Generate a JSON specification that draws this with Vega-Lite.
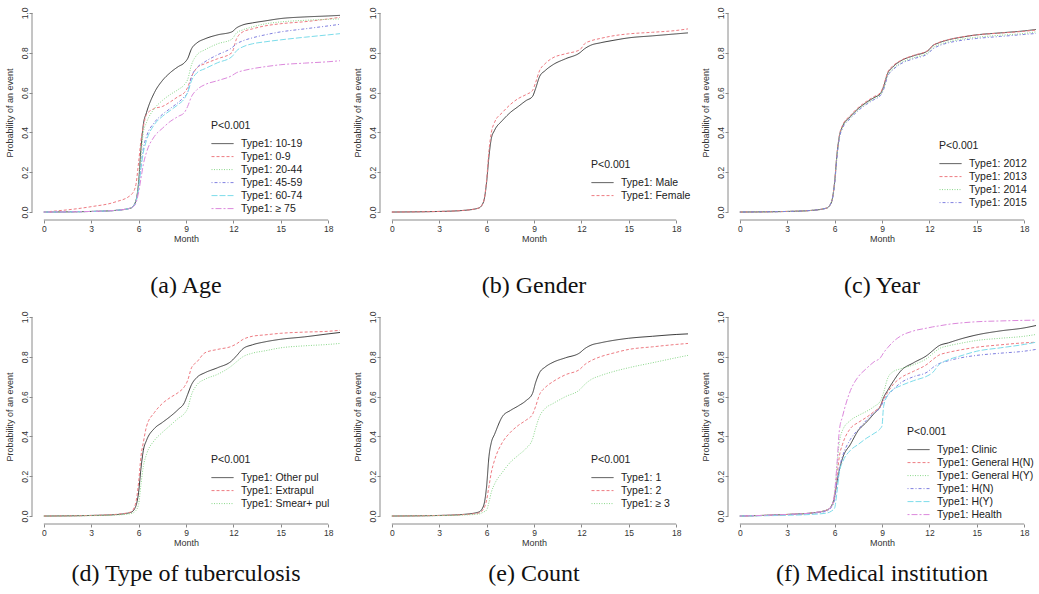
{
"$schema": "https://vega.github.io/schema/vega-lite/v6.json",
"padding": {"left": 4, "top": 5, "right": 0, "bottom": 0},
"background": "white",
"datasets": {
"age": [
{"group":"Type1: 10-19","month":0,"prob":0},{"group":"Type1: 10-19","month":3,"prob":0.003},{"group":"Type1: 10-19","month":4.5,"prob":0.008},{"group":"Type1: 10-19","month":5.5,"prob":0.02},{"group":"Type1: 10-19","month":5.8,"prob":0.05},{"group":"Type1: 10-19","month":6,"prob":0.15},{"group":"Type1: 10-19","month":6.15,"prob":0.32},{"group":"Type1: 10-19","month":6.3,"prob":0.44},{"group":"Type1: 10-19","month":6.5,"prob":0.5},{"group":"Type1: 10-19","month":7,"prob":0.6},{"group":"Type1: 10-19","month":7.5,"prob":0.66},{"group":"Type1: 10-19","month":8,"prob":0.7},{"group":"Type1: 10-19","month":8.5,"prob":0.73},{"group":"Type1: 10-19","month":8.9,"prob":0.75},{"group":"Type1: 10-19","month":9.1,"prob":0.77},{"group":"Type1: 10-19","month":9.35,"prob":0.82},{"group":"Type1: 10-19","month":9.7,"prob":0.85},{"group":"Type1: 10-19","month":10.2,"prob":0.87},{"group":"Type1: 10-19","month":11,"prob":0.89},{"group":"Type1: 10-19","month":11.9,"prob":0.905},{"group":"Type1: 10-19","month":12.2,"prob":0.925},{"group":"Type1: 10-19","month":12.6,"prob":0.94},{"group":"Type1: 10-19","month":13.2,"prob":0.95},{"group":"Type1: 10-19","month":14,"prob":0.96},{"group":"Type1: 10-19","month":15,"prob":0.972},{"group":"Type1: 10-19","month":16.5,"prob":0.98},{"group":"Type1: 10-19","month":18,"prob":0.985},{"group":"Type1: 10-19","month":18.75,"prob":0.988},
{"group":"Type1: 0-9","month":0,"prob":0},{"group":"Type1: 0-9","month":3,"prob":0.027},{"group":"Type1: 0-9","month":4.5,"prob":0.05},{"group":"Type1: 0-9","month":5.5,"prob":0.085},{"group":"Type1: 0-9","month":5.8,"prob":0.127},{"group":"Type1: 0-9","month":6,"prob":0.25},{"group":"Type1: 0-9","month":6.15,"prob":0.36},{"group":"Type1: 0-9","month":6.3,"prob":0.43},{"group":"Type1: 0-9","month":6.5,"prob":0.49},{"group":"Type1: 0-9","month":7,"prob":0.52},{"group":"Type1: 0-9","month":7.5,"prob":0.53},{"group":"Type1: 0-9","month":8,"prob":0.553},{"group":"Type1: 0-9","month":8.5,"prob":0.58},{"group":"Type1: 0-9","month":8.9,"prob":0.6},{"group":"Type1: 0-9","month":9.1,"prob":0.625},{"group":"Type1: 0-9","month":9.35,"prob":0.68},{"group":"Type1: 0-9","month":9.7,"prob":0.725},{"group":"Type1: 0-9","month":10.2,"prob":0.745},{"group":"Type1: 0-9","month":11,"prob":0.77},{"group":"Type1: 0-9","month":11.9,"prob":0.8},{"group":"Type1: 0-9","month":12.2,"prob":0.87},{"group":"Type1: 0-9","month":12.6,"prob":0.905},{"group":"Type1: 0-9","month":13.2,"prob":0.92},{"group":"Type1: 0-9","month":14,"prob":0.935},{"group":"Type1: 0-9","month":15,"prob":0.946},{"group":"Type1: 0-9","month":16.5,"prob":0.956},{"group":"Type1: 0-9","month":18,"prob":0.97},{"group":"Type1: 0-9","month":18.75,"prob":0.978},
{"group":"Type1: 20-44","month":0,"prob":0},{"group":"Type1: 20-44","month":3,"prob":0.003},{"group":"Type1: 20-44","month":4.5,"prob":0.008},{"group":"Type1: 20-44","month":5.5,"prob":0.02},{"group":"Type1: 20-44","month":5.8,"prob":0.05},{"group":"Type1: 20-44","month":6,"prob":0.14},{"group":"Type1: 20-44","month":6.15,"prob":0.28},{"group":"Type1: 20-44","month":6.3,"prob":0.4},{"group":"Type1: 20-44","month":6.5,"prob":0.45},{"group":"Type1: 20-44","month":7,"prob":0.52},{"group":"Type1: 20-44","month":7.5,"prob":0.56},{"group":"Type1: 20-44","month":8,"prob":0.59},{"group":"Type1: 20-44","month":8.5,"prob":0.615},{"group":"Type1: 20-44","month":8.9,"prob":0.64},{"group":"Type1: 20-44","month":9.1,"prob":0.665},{"group":"Type1: 20-44","month":9.35,"prob":0.74},{"group":"Type1: 20-44","month":9.7,"prob":0.79},{"group":"Type1: 20-44","month":10.2,"prob":0.815},{"group":"Type1: 20-44","month":11,"prob":0.845},{"group":"Type1: 20-44","month":11.9,"prob":0.868},{"group":"Type1: 20-44","month":12.2,"prob":0.9},{"group":"Type1: 20-44","month":12.6,"prob":0.915},{"group":"Type1: 20-44","month":13.2,"prob":0.93},{"group":"Type1: 20-44","month":14,"prob":0.945},{"group":"Type1: 20-44","month":15,"prob":0.955},{"group":"Type1: 20-44","month":16.5,"prob":0.963},{"group":"Type1: 20-44","month":18,"prob":0.968},{"group":"Type1: 20-44","month":18.75,"prob":0.97},
{"group":"Type1: 45-59","month":0,"prob":0},{"group":"Type1: 45-59","month":3,"prob":0.003},{"group":"Type1: 45-59","month":4.5,"prob":0.008},{"group":"Type1: 45-59","month":5.5,"prob":0.02},{"group":"Type1: 45-59","month":5.8,"prob":0.045},{"group":"Type1: 45-59","month":6,"prob":0.12},{"group":"Type1: 45-59","month":6.15,"prob":0.23},{"group":"Type1: 45-59","month":6.3,"prob":0.32},{"group":"Type1: 45-59","month":6.5,"prob":0.38},{"group":"Type1: 45-59","month":7,"prob":0.45},{"group":"Type1: 45-59","month":7.5,"prob":0.49},{"group":"Type1: 45-59","month":8,"prob":0.52},{"group":"Type1: 45-59","month":8.5,"prob":0.55},{"group":"Type1: 45-59","month":8.9,"prob":0.58},{"group":"Type1: 45-59","month":9.1,"prob":0.6},{"group":"Type1: 45-59","month":9.35,"prob":0.68},{"group":"Type1: 45-59","month":9.7,"prob":0.725},{"group":"Type1: 45-59","month":10.2,"prob":0.755},{"group":"Type1: 45-59","month":11,"prob":0.79},{"group":"Type1: 45-59","month":11.9,"prob":0.825},{"group":"Type1: 45-59","month":12.2,"prob":0.845},{"group":"Type1: 45-59","month":12.6,"prob":0.86},{"group":"Type1: 45-59","month":13.2,"prob":0.875},{"group":"Type1: 45-59","month":14,"prob":0.89},{"group":"Type1: 45-59","month":15,"prob":0.905},{"group":"Type1: 45-59","month":16.5,"prob":0.92},{"group":"Type1: 45-59","month":18,"prob":0.935},{"group":"Type1: 45-59","month":18.75,"prob":0.943},
{"group":"Type1: 60-74","month":0,"prob":0},{"group":"Type1: 60-74","month":3,"prob":0.003},{"group":"Type1: 60-74","month":4.5,"prob":0.008},{"group":"Type1: 60-74","month":5.5,"prob":0.02},{"group":"Type1: 60-74","month":5.8,"prob":0.045},{"group":"Type1: 60-74","month":6,"prob":0.12},{"group":"Type1: 60-74","month":6.15,"prob":0.22},{"group":"Type1: 60-74","month":6.3,"prob":0.3},{"group":"Type1: 60-74","month":6.5,"prob":0.36},{"group":"Type1: 60-74","month":7,"prob":0.44},{"group":"Type1: 60-74","month":7.5,"prob":0.48},{"group":"Type1: 60-74","month":8,"prob":0.51},{"group":"Type1: 60-74","month":8.5,"prob":0.54},{"group":"Type1: 60-74","month":8.9,"prob":0.57},{"group":"Type1: 60-74","month":9.1,"prob":0.6},{"group":"Type1: 60-74","month":9.35,"prob":0.66},{"group":"Type1: 60-74","month":9.7,"prob":0.7},{"group":"Type1: 60-74","month":10.2,"prob":0.72},{"group":"Type1: 60-74","month":11,"prob":0.75},{"group":"Type1: 60-74","month":11.9,"prob":0.78},{"group":"Type1: 60-74","month":12.2,"prob":0.81},{"group":"Type1: 60-74","month":12.6,"prob":0.83},{"group":"Type1: 60-74","month":13.2,"prob":0.845},{"group":"Type1: 60-74","month":14,"prob":0.855},{"group":"Type1: 60-74","month":15,"prob":0.865},{"group":"Type1: 60-74","month":16.5,"prob":0.878},{"group":"Type1: 60-74","month":18,"prob":0.89},{"group":"Type1: 60-74","month":18.75,"prob":0.896},
{"group":"Type1: ≥ 75","month":0,"prob":0},{"group":"Type1: ≥ 75","month":3,"prob":0.003},{"group":"Type1: ≥ 75","month":4.5,"prob":0.008},{"group":"Type1: ≥ 75","month":5.5,"prob":0.02},{"group":"Type1: ≥ 75","month":5.8,"prob":0.04},{"group":"Type1: ≥ 75","month":6,"prob":0.1},{"group":"Type1: ≥ 75","month":6.15,"prob":0.17},{"group":"Type1: ≥ 75","month":6.3,"prob":0.24},{"group":"Type1: ≥ 75","month":6.5,"prob":0.3},{"group":"Type1: ≥ 75","month":7,"prob":0.38},{"group":"Type1: ≥ 75","month":7.5,"prob":0.42},{"group":"Type1: ≥ 75","month":8,"prob":0.455},{"group":"Type1: ≥ 75","month":8.5,"prob":0.48},{"group":"Type1: ≥ 75","month":8.9,"prob":0.5},{"group":"Type1: ≥ 75","month":9.1,"prob":0.53},{"group":"Type1: ≥ 75","month":9.35,"prob":0.58},{"group":"Type1: ≥ 75","month":9.7,"prob":0.615},{"group":"Type1: ≥ 75","month":10.2,"prob":0.64},{"group":"Type1: ≥ 75","month":11,"prob":0.66},{"group":"Type1: ≥ 75","month":11.9,"prob":0.685},{"group":"Type1: ≥ 75","month":12.2,"prob":0.7},{"group":"Type1: ≥ 75","month":12.6,"prob":0.71},{"group":"Type1: ≥ 75","month":13.2,"prob":0.72},{"group":"Type1: ≥ 75","month":14,"prob":0.73},{"group":"Type1: ≥ 75","month":15,"prob":0.74},{"group":"Type1: ≥ 75","month":16.5,"prob":0.748},{"group":"Type1: ≥ 75","month":18,"prob":0.755},{"group":"Type1: ≥ 75","month":18.75,"prob":0.76}
],
"gender": [
{"group":"Type1: Male","month":0,"prob":0},{"group":"Type1: Male","month":3,"prob":0.003},{"group":"Type1: Male","month":4.5,"prob":0.008},{"group":"Type1: Male","month":5.5,"prob":0.02},{"group":"Type1: Male","month":5.8,"prob":0.05},{"group":"Type1: Male","month":6,"prob":0.15},{"group":"Type1: Male","month":6.15,"prob":0.28},{"group":"Type1: Male","month":6.3,"prob":0.37},{"group":"Type1: Male","month":6.5,"prob":0.41},{"group":"Type1: Male","month":7,"prob":0.46},{"group":"Type1: Male","month":7.5,"prob":0.5},{"group":"Type1: Male","month":8,"prob":0.53},{"group":"Type1: Male","month":8.5,"prob":0.56},{"group":"Type1: Male","month":8.9,"prob":0.58},{"group":"Type1: Male","month":9.1,"prob":0.62},{"group":"Type1: Male","month":9.35,"prob":0.68},{"group":"Type1: Male","month":9.7,"prob":0.71},{"group":"Type1: Male","month":10.2,"prob":0.74},{"group":"Type1: Male","month":11,"prob":0.77},{"group":"Type1: Male","month":11.9,"prob":0.8},{"group":"Type1: Male","month":12.2,"prob":0.82},{"group":"Type1: Male","month":12.6,"prob":0.838},{"group":"Type1: Male","month":13.2,"prob":0.85},{"group":"Type1: Male","month":14,"prob":0.862},{"group":"Type1: Male","month":15,"prob":0.875},{"group":"Type1: Male","month":16.5,"prob":0.885},{"group":"Type1: Male","month":18,"prob":0.895},{"group":"Type1: Male","month":18.75,"prob":0.9},
{"group":"Type1: Female","month":0,"prob":0},{"group":"Type1: Female","month":3,"prob":0.003},{"group":"Type1: Female","month":4.5,"prob":0.008},{"group":"Type1: Female","month":5.5,"prob":0.02},{"group":"Type1: Female","month":5.8,"prob":0.05},{"group":"Type1: Female","month":6,"prob":0.16},{"group":"Type1: Female","month":6.15,"prob":0.31},{"group":"Type1: Female","month":6.3,"prob":0.4},{"group":"Type1: Female","month":6.5,"prob":0.45},{"group":"Type1: Female","month":7,"prob":0.5},{"group":"Type1: Female","month":7.5,"prob":0.54},{"group":"Type1: Female","month":8,"prob":0.57},{"group":"Type1: Female","month":8.5,"prob":0.59},{"group":"Type1: Female","month":8.9,"prob":0.61},{"group":"Type1: Female","month":9.1,"prob":0.65},{"group":"Type1: Female","month":9.35,"prob":0.71},{"group":"Type1: Female","month":9.7,"prob":0.745},{"group":"Type1: Female","month":10.2,"prob":0.775},{"group":"Type1: Female","month":11,"prob":0.795},{"group":"Type1: Female","month":11.9,"prob":0.815},{"group":"Type1: Female","month":12.2,"prob":0.845},{"group":"Type1: Female","month":12.6,"prob":0.86},{"group":"Type1: Female","month":13.2,"prob":0.872},{"group":"Type1: Female","month":14,"prob":0.885},{"group":"Type1: Female","month":15,"prob":0.895},{"group":"Type1: Female","month":16.5,"prob":0.903},{"group":"Type1: Female","month":18,"prob":0.912},{"group":"Type1: Female","month":18.75,"prob":0.92}
],
"year": [
{"group":"Type1: 2012","month":0,"prob":0},{"group":"Type1: 2012","month":3,"prob":0.003},{"group":"Type1: 2012","month":4.5,"prob":0.008},{"group":"Type1: 2012","month":5.5,"prob":0.02},{"group":"Type1: 2012","month":5.8,"prob":0.05},{"group":"Type1: 2012","month":6,"prob":0.15},{"group":"Type1: 2012","month":6.15,"prob":0.29},{"group":"Type1: 2012","month":6.3,"prob":0.38},{"group":"Type1: 2012","month":6.5,"prob":0.43},{"group":"Type1: 2012","month":7,"prob":0.48},{"group":"Type1: 2012","month":7.5,"prob":0.52},{"group":"Type1: 2012","month":8,"prob":0.55},{"group":"Type1: 2012","month":8.5,"prob":0.575},{"group":"Type1: 2012","month":8.9,"prob":0.595},{"group":"Type1: 2012","month":9.1,"prob":0.63},{"group":"Type1: 2012","month":9.35,"prob":0.695},{"group":"Type1: 2012","month":9.7,"prob":0.73},{"group":"Type1: 2012","month":10.2,"prob":0.76},{"group":"Type1: 2012","month":11,"prob":0.785},{"group":"Type1: 2012","month":11.9,"prob":0.81},{"group":"Type1: 2012","month":12.2,"prob":0.835},{"group":"Type1: 2012","month":12.6,"prob":0.85},{"group":"Type1: 2012","month":13.2,"prob":0.865},{"group":"Type1: 2012","month":14,"prob":0.878},{"group":"Type1: 2012","month":15,"prob":0.89},{"group":"Type1: 2012","month":16.5,"prob":0.9},{"group":"Type1: 2012","month":18,"prob":0.91},{"group":"Type1: 2012","month":18.75,"prob":0.917},
{"group":"Type1: 2013","month":0,"prob":0},{"group":"Type1: 2013","month":3,"prob":0.003},{"group":"Type1: 2013","month":4.5,"prob":0.008},{"group":"Type1: 2013","month":5.5,"prob":0.02},{"group":"Type1: 2013","month":5.8,"prob":0.05},{"group":"Type1: 2013","month":6,"prob":0.15},{"group":"Type1: 2013","month":6.15,"prob":0.29},{"group":"Type1: 2013","month":6.3,"prob":0.385},{"group":"Type1: 2013","month":6.5,"prob":0.435},{"group":"Type1: 2013","month":7,"prob":0.485},{"group":"Type1: 2013","month":7.5,"prob":0.525},{"group":"Type1: 2013","month":8,"prob":0.555},{"group":"Type1: 2013","month":8.5,"prob":0.58},{"group":"Type1: 2013","month":8.9,"prob":0.6},{"group":"Type1: 2013","month":9.1,"prob":0.635},{"group":"Type1: 2013","month":9.35,"prob":0.7},{"group":"Type1: 2013","month":9.7,"prob":0.735},{"group":"Type1: 2013","month":10.2,"prob":0.762},{"group":"Type1: 2013","month":11,"prob":0.787},{"group":"Type1: 2013","month":11.9,"prob":0.812},{"group":"Type1: 2013","month":12.2,"prob":0.836},{"group":"Type1: 2013","month":12.6,"prob":0.852},{"group":"Type1: 2013","month":13.2,"prob":0.866},{"group":"Type1: 2013","month":14,"prob":0.879},{"group":"Type1: 2013","month":15,"prob":0.89},{"group":"Type1: 2013","month":16.5,"prob":0.899},{"group":"Type1: 2013","month":18,"prob":0.908},{"group":"Type1: 2013","month":18.75,"prob":0.914},
{"group":"Type1: 2014","month":0,"prob":0},{"group":"Type1: 2014","month":3,"prob":0.003},{"group":"Type1: 2014","month":4.5,"prob":0.008},{"group":"Type1: 2014","month":5.5,"prob":0.02},{"group":"Type1: 2014","month":5.8,"prob":0.05},{"group":"Type1: 2014","month":6,"prob":0.145},{"group":"Type1: 2014","month":6.15,"prob":0.28},{"group":"Type1: 2014","month":6.3,"prob":0.375},{"group":"Type1: 2014","month":6.5,"prob":0.425},{"group":"Type1: 2014","month":7,"prob":0.475},{"group":"Type1: 2014","month":7.5,"prob":0.515},{"group":"Type1: 2014","month":8,"prob":0.545},{"group":"Type1: 2014","month":8.5,"prob":0.57},{"group":"Type1: 2014","month":8.9,"prob":0.59},{"group":"Type1: 2014","month":9.1,"prob":0.62},{"group":"Type1: 2014","month":9.35,"prob":0.685},{"group":"Type1: 2014","month":9.7,"prob":0.72},{"group":"Type1: 2014","month":10.2,"prob":0.75},{"group":"Type1: 2014","month":11,"prob":0.775},{"group":"Type1: 2014","month":11.9,"prob":0.8},{"group":"Type1: 2014","month":12.2,"prob":0.825},{"group":"Type1: 2014","month":12.6,"prob":0.84},{"group":"Type1: 2014","month":13.2,"prob":0.855},{"group":"Type1: 2014","month":14,"prob":0.868},{"group":"Type1: 2014","month":15,"prob":0.878},{"group":"Type1: 2014","month":16.5,"prob":0.888},{"group":"Type1: 2014","month":18,"prob":0.897},{"group":"Type1: 2014","month":18.75,"prob":0.905},
{"group":"Type1: 2015","month":0,"prob":0},{"group":"Type1: 2015","month":3,"prob":0.003},{"group":"Type1: 2015","month":4.5,"prob":0.008},{"group":"Type1: 2015","month":5.5,"prob":0.02},{"group":"Type1: 2015","month":5.8,"prob":0.05},{"group":"Type1: 2015","month":6,"prob":0.14},{"group":"Type1: 2015","month":6.15,"prob":0.275},{"group":"Type1: 2015","month":6.3,"prob":0.37},{"group":"Type1: 2015","month":6.5,"prob":0.42},{"group":"Type1: 2015","month":7,"prob":0.47},{"group":"Type1: 2015","month":7.5,"prob":0.51},{"group":"Type1: 2015","month":8,"prob":0.54},{"group":"Type1: 2015","month":8.5,"prob":0.565},{"group":"Type1: 2015","month":8.9,"prob":0.585},{"group":"Type1: 2015","month":9.1,"prob":0.615},{"group":"Type1: 2015","month":9.35,"prob":0.68},{"group":"Type1: 2015","month":9.7,"prob":0.715},{"group":"Type1: 2015","month":10.2,"prob":0.745},{"group":"Type1: 2015","month":11,"prob":0.77},{"group":"Type1: 2015","month":11.9,"prob":0.795},{"group":"Type1: 2015","month":12.2,"prob":0.818},{"group":"Type1: 2015","month":12.6,"prob":0.835},{"group":"Type1: 2015","month":13.2,"prob":0.85},{"group":"Type1: 2015","month":14,"prob":0.862},{"group":"Type1: 2015","month":15,"prob":0.872},{"group":"Type1: 2015","month":16.5,"prob":0.882},{"group":"Type1: 2015","month":18,"prob":0.892},{"group":"Type1: 2015","month":18.75,"prob":0.897}
],
"ttype": [
{"group":"Type1: Other pul","month":0,"prob":0},{"group":"Type1: Other pul","month":3,"prob":0.003},{"group":"Type1: Other pul","month":4.5,"prob":0.007},{"group":"Type1: Other pul","month":5.5,"prob":0.018},{"group":"Type1: Other pul","month":5.8,"prob":0.045},{"group":"Type1: Other pul","month":6,"prob":0.12},{"group":"Type1: Other pul","month":6.15,"prob":0.24},{"group":"Type1: Other pul","month":6.3,"prob":0.33},{"group":"Type1: Other pul","month":6.5,"prob":0.38},{"group":"Type1: Other pul","month":7,"prob":0.44},{"group":"Type1: Other pul","month":7.5,"prob":0.47},{"group":"Type1: Other pul","month":8,"prob":0.5},{"group":"Type1: Other pul","month":8.5,"prob":0.535},{"group":"Type1: Other pul","month":8.9,"prob":0.57},{"group":"Type1: Other pul","month":9.1,"prob":0.61},{"group":"Type1: Other pul","month":9.35,"prob":0.66},{"group":"Type1: Other pul","month":9.7,"prob":0.697},{"group":"Type1: Other pul","month":10.2,"prob":0.72},{"group":"Type1: Other pul","month":11,"prob":0.745},{"group":"Type1: Other pul","month":11.9,"prob":0.78},{"group":"Type1: Other pul","month":12.2,"prob":0.805},{"group":"Type1: Other pul","month":12.6,"prob":0.84},{"group":"Type1: Other pul","month":13.2,"prob":0.86},{"group":"Type1: Other pul","month":14,"prob":0.875},{"group":"Type1: Other pul","month":15,"prob":0.888},{"group":"Type1: Other pul","month":16.5,"prob":0.9},{"group":"Type1: Other pul","month":18,"prob":0.915},{"group":"Type1: Other pul","month":18.75,"prob":0.922},
{"group":"Type1: Extrapul","month":0,"prob":0},{"group":"Type1: Extrapul","month":3,"prob":0.003},{"group":"Type1: Extrapul","month":4.5,"prob":0.008},{"group":"Type1: Extrapul","month":5.5,"prob":0.02},{"group":"Type1: Extrapul","month":5.8,"prob":0.06},{"group":"Type1: Extrapul","month":6,"prob":0.17},{"group":"Type1: Extrapul","month":6.15,"prob":0.3},{"group":"Type1: Extrapul","month":6.3,"prob":0.37},{"group":"Type1: Extrapul","month":6.5,"prob":0.45},{"group":"Type1: Extrapul","month":7,"prob":0.52},{"group":"Type1: Extrapul","month":7.5,"prob":0.565},{"group":"Type1: Extrapul","month":8,"prob":0.595},{"group":"Type1: Extrapul","month":8.5,"prob":0.62},{"group":"Type1: Extrapul","month":8.9,"prob":0.65},{"group":"Type1: Extrapul","month":9.1,"prob":0.68},{"group":"Type1: Extrapul","month":9.35,"prob":0.745},{"group":"Type1: Extrapul","month":9.7,"prob":0.775},{"group":"Type1: Extrapul","month":10.2,"prob":0.82},{"group":"Type1: Extrapul","month":11,"prob":0.837},{"group":"Type1: Extrapul","month":11.9,"prob":0.853},{"group":"Type1: Extrapul","month":12.2,"prob":0.865},{"group":"Type1: Extrapul","month":12.6,"prob":0.887},{"group":"Type1: Extrapul","month":13.2,"prob":0.903},{"group":"Type1: Extrapul","month":14,"prob":0.91},{"group":"Type1: Extrapul","month":15,"prob":0.918},{"group":"Type1: Extrapul","month":16.5,"prob":0.924},{"group":"Type1: Extrapul","month":18,"prob":0.928},{"group":"Type1: Extrapul","month":18.75,"prob":0.933},
{"group":"Type1: Smear+ pul","month":0,"prob":0},{"group":"Type1: Smear+ pul","month":3,"prob":0.002},{"group":"Type1: Smear+ pul","month":4.5,"prob":0.005},{"group":"Type1: Smear+ pul","month":5.5,"prob":0.012},{"group":"Type1: Smear+ pul","month":5.8,"prob":0.025},{"group":"Type1: Smear+ pul","month":6,"prob":0.06},{"group":"Type1: Smear+ pul","month":6.15,"prob":0.16},{"group":"Type1: Smear+ pul","month":6.3,"prob":0.25},{"group":"Type1: Smear+ pul","month":6.5,"prob":0.31},{"group":"Type1: Smear+ pul","month":7,"prob":0.38},{"group":"Type1: Smear+ pul","month":7.5,"prob":0.42},{"group":"Type1: Smear+ pul","month":8,"prob":0.455},{"group":"Type1: Smear+ pul","month":8.5,"prob":0.49},{"group":"Type1: Smear+ pul","month":8.9,"prob":0.515},{"group":"Type1: Smear+ pul","month":9.1,"prob":0.54},{"group":"Type1: Smear+ pul","month":9.35,"prob":0.61},{"group":"Type1: Smear+ pul","month":9.7,"prob":0.66},{"group":"Type1: Smear+ pul","month":10.2,"prob":0.687},{"group":"Type1: Smear+ pul","month":11,"prob":0.712},{"group":"Type1: Smear+ pul","month":11.9,"prob":0.755},{"group":"Type1: Smear+ pul","month":12.2,"prob":0.775},{"group":"Type1: Smear+ pul","month":12.6,"prob":0.8},{"group":"Type1: Smear+ pul","month":13.2,"prob":0.818},{"group":"Type1: Smear+ pul","month":14,"prob":0.83},{"group":"Type1: Smear+ pul","month":15,"prob":0.845},{"group":"Type1: Smear+ pul","month":16.5,"prob":0.855},{"group":"Type1: Smear+ pul","month":18,"prob":0.862},{"group":"Type1: Smear+ pul","month":18.75,"prob":0.867}
],
"count": [
{"group":"Type1: 1","month":0,"prob":0},{"group":"Type1: 1","month":3,"prob":0.003},{"group":"Type1: 1","month":4.5,"prob":0.008},{"group":"Type1: 1","month":5.5,"prob":0.02},{"group":"Type1: 1","month":5.8,"prob":0.05},{"group":"Type1: 1","month":6,"prob":0.15},{"group":"Type1: 1","month":6.15,"prob":0.3},{"group":"Type1: 1","month":6.3,"prob":0.37},{"group":"Type1: 1","month":6.5,"prob":0.41},{"group":"Type1: 1","month":7,"prob":0.5},{"group":"Type1: 1","month":7.5,"prob":0.53},{"group":"Type1: 1","month":8,"prob":0.553},{"group":"Type1: 1","month":8.5,"prob":0.58},{"group":"Type1: 1","month":8.9,"prob":0.615},{"group":"Type1: 1","month":9.1,"prob":0.67},{"group":"Type1: 1","month":9.35,"prob":0.72},{"group":"Type1: 1","month":9.7,"prob":0.748},{"group":"Type1: 1","month":10.2,"prob":0.772},{"group":"Type1: 1","month":11,"prob":0.795},{"group":"Type1: 1","month":11.9,"prob":0.82},{"group":"Type1: 1","month":12.2,"prob":0.84},{"group":"Type1: 1","month":12.6,"prob":0.858},{"group":"Type1: 1","month":13.2,"prob":0.87},{"group":"Type1: 1","month":14,"prob":0.882},{"group":"Type1: 1","month":15,"prob":0.893},{"group":"Type1: 1","month":16.5,"prob":0.903},{"group":"Type1: 1","month":18,"prob":0.912},{"group":"Type1: 1","month":18.75,"prob":0.915},
{"group":"Type1: 2","month":0,"prob":0},{"group":"Type1: 2","month":3,"prob":0.003},{"group":"Type1: 2","month":4.5,"prob":0.007},{"group":"Type1: 2","month":5.5,"prob":0.015},{"group":"Type1: 2","month":5.8,"prob":0.035},{"group":"Type1: 2","month":6,"prob":0.08},{"group":"Type1: 2","month":6.15,"prob":0.15},{"group":"Type1: 2","month":6.3,"prob":0.22},{"group":"Type1: 2","month":6.5,"prob":0.28},{"group":"Type1: 2","month":7,"prob":0.37},{"group":"Type1: 2","month":7.5,"prob":0.42},{"group":"Type1: 2","month":8,"prob":0.455},{"group":"Type1: 2","month":8.5,"prob":0.482},{"group":"Type1: 2","month":8.9,"prob":0.51},{"group":"Type1: 2","month":9.1,"prob":0.55},{"group":"Type1: 2","month":9.35,"prob":0.61},{"group":"Type1: 2","month":9.7,"prob":0.645},{"group":"Type1: 2","month":10.2,"prob":0.675},{"group":"Type1: 2","month":11,"prob":0.71},{"group":"Type1: 2","month":11.9,"prob":0.737},{"group":"Type1: 2","month":12.2,"prob":0.76},{"group":"Type1: 2","month":12.6,"prob":0.78},{"group":"Type1: 2","month":13.2,"prob":0.8},{"group":"Type1: 2","month":14,"prob":0.818},{"group":"Type1: 2","month":15,"prob":0.837},{"group":"Type1: 2","month":16.5,"prob":0.85},{"group":"Type1: 2","month":18,"prob":0.862},{"group":"Type1: 2","month":18.75,"prob":0.867},
{"group":"Type1: ≥ 3","month":0,"prob":0},{"group":"Type1: ≥ 3","month":3,"prob":0.002},{"group":"Type1: ≥ 3","month":4.5,"prob":0.005},{"group":"Type1: ≥ 3","month":5.5,"prob":0.01},{"group":"Type1: ≥ 3","month":5.8,"prob":0.02},{"group":"Type1: ≥ 3","month":6,"prob":0.03},{"group":"Type1: ≥ 3","month":6.15,"prob":0.07},{"group":"Type1: ≥ 3","month":6.3,"prob":0.12},{"group":"Type1: ≥ 3","month":6.5,"prob":0.16},{"group":"Type1: ≥ 3","month":7,"prob":0.22},{"group":"Type1: ≥ 3","month":7.5,"prob":0.27},{"group":"Type1: ≥ 3","month":8,"prob":0.305},{"group":"Type1: ≥ 3","month":8.5,"prob":0.34},{"group":"Type1: ≥ 3","month":8.9,"prob":0.385},{"group":"Type1: ≥ 3","month":9.1,"prob":0.44},{"group":"Type1: ≥ 3","month":9.35,"prob":0.5},{"group":"Type1: ≥ 3","month":9.7,"prob":0.54},{"group":"Type1: ≥ 3","month":10.2,"prob":0.565},{"group":"Type1: ≥ 3","month":11,"prob":0.6},{"group":"Type1: ≥ 3","month":11.9,"prob":0.635},{"group":"Type1: ≥ 3","month":12.2,"prob":0.66},{"group":"Type1: ≥ 3","month":12.6,"prob":0.685},{"group":"Type1: ≥ 3","month":13.2,"prob":0.705},{"group":"Type1: ≥ 3","month":14,"prob":0.725},{"group":"Type1: ≥ 3","month":15,"prob":0.745},{"group":"Type1: ≥ 3","month":16.5,"prob":0.77},{"group":"Type1: ≥ 3","month":18,"prob":0.795},{"group":"Type1: ≥ 3","month":18.75,"prob":0.807}
],
"inst": [
{"group":"Type1: Clinic","month":0,"prob":0},{"group":"Type1: Clinic","month":3,"prob":0.008},{"group":"Type1: Clinic","month":4.5,"prob":0.015},{"group":"Type1: Clinic","month":5.5,"prob":0.03},{"group":"Type1: Clinic","month":5.8,"prob":0.05},{"group":"Type1: Clinic","month":6,"prob":0.1},{"group":"Type1: Clinic","month":6.15,"prob":0.17},{"group":"Type1: Clinic","month":6.3,"prob":0.23},{"group":"Type1: Clinic","month":6.5,"prob":0.29},{"group":"Type1: Clinic","month":7,"prob":0.36},{"group":"Type1: Clinic","month":7.5,"prob":0.43},{"group":"Type1: Clinic","month":8,"prob":0.47},{"group":"Type1: Clinic","month":8.5,"prob":0.515},{"group":"Type1: Clinic","month":8.9,"prob":0.553},{"group":"Type1: Clinic","month":9.1,"prob":0.595},{"group":"Type1: Clinic","month":9.35,"prob":0.63},{"group":"Type1: Clinic","month":9.7,"prob":0.675},{"group":"Type1: Clinic","month":10.2,"prob":0.73},{"group":"Type1: Clinic","month":11,"prob":0.77},{"group":"Type1: Clinic","month":11.9,"prob":0.81},{"group":"Type1: Clinic","month":12.2,"prob":0.83},{"group":"Type1: Clinic","month":12.6,"prob":0.855},{"group":"Type1: Clinic","month":13.2,"prob":0.87},{"group":"Type1: Clinic","month":14,"prob":0.89},{"group":"Type1: Clinic","month":15,"prob":0.91},{"group":"Type1: Clinic","month":16.5,"prob":0.93},{"group":"Type1: Clinic","month":18,"prob":0.945},{"group":"Type1: Clinic","month":18.75,"prob":0.957},
{"group":"Type1: General H(N)","month":0,"prob":0},{"group":"Type1: General H(N)","month":3,"prob":0.008},{"group":"Type1: General H(N)","month":4.5,"prob":0.015},{"group":"Type1: General H(N)","month":5.5,"prob":0.03},{"group":"Type1: General H(N)","month":5.8,"prob":0.05},{"group":"Type1: General H(N)","month":6,"prob":0.1},{"group":"Type1: General H(N)","month":6.15,"prob":0.2},{"group":"Type1: General H(N)","month":6.3,"prob":0.3},{"group":"Type1: General H(N)","month":6.5,"prob":0.36},{"group":"Type1: General H(N)","month":7,"prob":0.44},{"group":"Type1: General H(N)","month":7.5,"prob":0.47},{"group":"Type1: General H(N)","month":8,"prob":0.495},{"group":"Type1: General H(N)","month":8.5,"prob":0.525},{"group":"Type1: General H(N)","month":8.9,"prob":0.553},{"group":"Type1: General H(N)","month":9.1,"prob":0.587},{"group":"Type1: General H(N)","month":9.35,"prob":0.62},{"group":"Type1: General H(N)","month":9.7,"prob":0.66},{"group":"Type1: General H(N)","month":10.2,"prob":0.695},{"group":"Type1: General H(N)","month":11,"prob":0.727},{"group":"Type1: General H(N)","month":11.9,"prob":0.765},{"group":"Type1: General H(N)","month":12.2,"prob":0.785},{"group":"Type1: General H(N)","month":12.6,"prob":0.808},{"group":"Type1: General H(N)","month":13.2,"prob":0.822},{"group":"Type1: General H(N)","month":14,"prob":0.835},{"group":"Type1: General H(N)","month":15,"prob":0.848},{"group":"Type1: General H(N)","month":16.5,"prob":0.86},{"group":"Type1: General H(N)","month":18,"prob":0.87},{"group":"Type1: General H(N)","month":18.75,"prob":0.873},
{"group":"Type1: General H(Y)","month":0,"prob":0},{"group":"Type1: General H(Y)","month":3,"prob":0.008},{"group":"Type1: General H(Y)","month":4.5,"prob":0.015},{"group":"Type1: General H(Y)","month":5.5,"prob":0.03},{"group":"Type1: General H(Y)","month":5.8,"prob":0.05},{"group":"Type1: General H(Y)","month":6,"prob":0.11},{"group":"Type1: General H(Y)","month":6.15,"prob":0.25},{"group":"Type1: General H(Y)","month":6.3,"prob":0.37},{"group":"Type1: General H(Y)","month":6.5,"prob":0.43},{"group":"Type1: General H(Y)","month":7,"prob":0.48},{"group":"Type1: General H(Y)","month":7.5,"prob":0.505},{"group":"Type1: General H(Y)","month":8,"prob":0.525},{"group":"Type1: General H(Y)","month":8.5,"prob":0.55},{"group":"Type1: General H(Y)","month":8.9,"prob":0.578},{"group":"Type1: General H(Y)","month":9.1,"prob":0.62},{"group":"Type1: General H(Y)","month":9.35,"prob":0.69},{"group":"Type1: General H(Y)","month":9.7,"prob":0.725},{"group":"Type1: General H(Y)","month":10.2,"prob":0.74},{"group":"Type1: General H(Y)","month":11,"prob":0.76},{"group":"Type1: General H(Y)","month":11.9,"prob":0.795},{"group":"Type1: General H(Y)","month":12.2,"prob":0.815},{"group":"Type1: General H(Y)","month":12.6,"prob":0.84},{"group":"Type1: General H(Y)","month":13.2,"prob":0.855},{"group":"Type1: General H(Y)","month":14,"prob":0.868},{"group":"Type1: General H(Y)","month":15,"prob":0.882},{"group":"Type1: General H(Y)","month":16.5,"prob":0.893},{"group":"Type1: General H(Y)","month":18,"prob":0.903},{"group":"Type1: General H(Y)","month":18.75,"prob":0.912},
{"group":"Type1: H(N)","month":0,"prob":0},{"group":"Type1: H(N)","month":3,"prob":0.007},{"group":"Type1: H(N)","month":4.5,"prob":0.013},{"group":"Type1: H(N)","month":5.5,"prob":0.025},{"group":"Type1: H(N)","month":5.8,"prob":0.045},{"group":"Type1: H(N)","month":6,"prob":0.08},{"group":"Type1: H(N)","month":6.15,"prob":0.17},{"group":"Type1: H(N)","month":6.3,"prob":0.24},{"group":"Type1: H(N)","month":6.5,"prob":0.3},{"group":"Type1: H(N)","month":7,"prob":0.385},{"group":"Type1: H(N)","month":7.5,"prob":0.435},{"group":"Type1: H(N)","month":8,"prob":0.48},{"group":"Type1: H(N)","month":8.5,"prob":0.52},{"group":"Type1: H(N)","month":8.9,"prob":0.545},{"group":"Type1: H(N)","month":9.1,"prob":0.578},{"group":"Type1: H(N)","month":9.35,"prob":0.605},{"group":"Type1: H(N)","month":9.7,"prob":0.635},{"group":"Type1: H(N)","month":10.2,"prob":0.67},{"group":"Type1: H(N)","month":11,"prob":0.7},{"group":"Type1: H(N)","month":11.9,"prob":0.725},{"group":"Type1: H(N)","month":12.2,"prob":0.745},{"group":"Type1: H(N)","month":12.6,"prob":0.765},{"group":"Type1: H(N)","month":13.2,"prob":0.78},{"group":"Type1: H(N)","month":14,"prob":0.795},{"group":"Type1: H(N)","month":15,"prob":0.807},{"group":"Type1: H(N)","month":16.5,"prob":0.818},{"group":"Type1: H(N)","month":18,"prob":0.828},{"group":"Type1: H(N)","month":18.75,"prob":0.837},
{"group":"Type1: H(Y)","month":0,"prob":0},{"group":"Type1: H(Y)","month":3,"prob":0.004},{"group":"Type1: H(Y)","month":4.5,"prob":0.008},{"group":"Type1: H(Y)","month":5.5,"prob":0.015},{"group":"Type1: H(Y)","month":5.8,"prob":0.025},{"group":"Type1: H(Y)","month":6,"prob":0.04},{"group":"Type1: H(Y)","month":6.15,"prob":0.12},{"group":"Type1: H(Y)","month":6.3,"prob":0.22},{"group":"Type1: H(Y)","month":6.5,"prob":0.27},{"group":"Type1: H(Y)","month":7,"prob":0.33},{"group":"Type1: H(Y)","month":7.5,"prob":0.36},{"group":"Type1: H(Y)","month":8,"prob":0.39},{"group":"Type1: H(Y)","month":8.5,"prob":0.415},{"group":"Type1: H(Y)","month":8.9,"prob":0.44},{"group":"Type1: H(Y)","month":9,"prob":0.453},{"group":"Type1: H(Y)","month":9.1,"prob":0.55},{"group":"Type1: H(Y)","month":9.35,"prob":0.605},{"group":"Type1: H(Y)","month":9.7,"prob":0.635},{"group":"Type1: H(Y)","month":10.2,"prob":0.655},{"group":"Type1: H(Y)","month":11,"prob":0.68},{"group":"Type1: H(Y)","month":11.9,"prob":0.705},{"group":"Type1: H(Y)","month":12.2,"prob":0.72},{"group":"Type1: H(Y)","month":12.6,"prob":0.76},{"group":"Type1: H(Y)","month":13.2,"prob":0.785},{"group":"Type1: H(Y)","month":14,"prob":0.805},{"group":"Type1: H(Y)","month":15,"prob":0.828},{"group":"Type1: H(Y)","month":16.5,"prob":0.845},{"group":"Type1: H(Y)","month":18,"prob":0.862},{"group":"Type1: H(Y)","month":18.75,"prob":0.873},
{"group":"Type1: Health","month":0,"prob":0},{"group":"Type1: Health","month":3,"prob":0.008},{"group":"Type1: Health","month":4.5,"prob":0.015},{"group":"Type1: Health","month":5.5,"prob":0.03},{"group":"Type1: Health","month":5.8,"prob":0.05},{"group":"Type1: Health","month":6,"prob":0.12},{"group":"Type1: Health","month":6.15,"prob":0.26},{"group":"Type1: Health","month":6.3,"prob":0.43},{"group":"Type1: Health","month":6.5,"prob":0.5},{"group":"Type1: Health","month":7,"prob":0.63},{"group":"Type1: Health","month":7.5,"prob":0.7},{"group":"Type1: Health","month":8,"prob":0.74},{"group":"Type1: Health","month":8.5,"prob":0.775},{"group":"Type1: Health","month":8.9,"prob":0.795},{"group":"Type1: Health","month":9.1,"prob":0.82},{"group":"Type1: Health","month":9.35,"prob":0.845},{"group":"Type1: Health","month":9.7,"prob":0.875},{"group":"Type1: Health","month":10.2,"prob":0.905},{"group":"Type1: Health","month":11,"prob":0.93},{"group":"Type1: Health","month":11.9,"prob":0.945},{"group":"Type1: Health","month":12.2,"prob":0.95},{"group":"Type1: Health","month":12.6,"prob":0.955},{"group":"Type1: Health","month":13.2,"prob":0.963},{"group":"Type1: Health","month":14,"prob":0.97},{"group":"Type1: Health","month":15,"prob":0.976},{"group":"Type1: Health","month":16.5,"prob":0.98},{"group":"Type1: Health","month":18,"prob":0.983},{"group":"Type1: Health","month":18.75,"prob":0.984}
]
},
"columns": 3,
"spacing": {"row": 89, "column": 40},
"bounds": "flush",
"resolve": {"scale": {"color": "independent", "strokeDash": "independent"}, "legend": {"color": "independent", "strokeDash": "independent"}},
"concat": [
{"width": 308, "height": 215, "title": {"text": "(a) Age"},
 "layer": [
  {"data": {"name": "age"}, "mark": {"type": "line", "interpolate": "monotone", "strokeWidth": 1, "clip": true},
   "encoding": {
    "x": {"field": "month", "type": "quantitative", "title": "Month", "scale": {"domain": [-0.75, 18.75], "nice": false, "zero": false}, "axis": {"values": [0,3,6,9,12,15,18]}},
    "y": {"field": "prob", "type": "quantitative", "title": "Probability of an event", "scale": {"domain": [-0.04, 1.04], "nice": false, "zero": false}, "axis": {"values": [0,0.2,0.4,0.6,0.8,1], "format": ".1f"}},
    "color": {"field": "group", "type": "nominal", "title": "P<0.001", "scale": {"domain": ["Type1: 10-19","Type1: 0-9","Type1: 20-44","Type1: 45-59","Type1: 60-74","Type1: ≥ 75"], "range": ["#3a3a3a","#ee7b82","#8ad88a","#8080e0","#7cdcea","#dc88dc"]}, "legend": {"orient": "none", "legendX": 179, "legendY": 116}},
    "strokeDash": {"field": "group", "type": "nominal", "title": "P<0.001", "scale": {"domain": ["Type1: 10-19","Type1: 0-9","Type1: 20-44","Type1: 45-59","Type1: 60-74","Type1: ≥ 75"], "range": [[1,0],[3,2],[1,1.5],[1,2,3,2],[6,2],[2,2,6,2]]}, "legend": {"orient": "none", "legendX": 179, "legendY": 116}}
   }},
  {"data": {"values": [{}]}, "mark": {"type": "rule", "color": "#8a8a8a", "strokeWidth": 1}, "encoding": {"x": {"datum": 0}, "x2": {"datum": 18}, "y": {"datum": -0.04}}},
  {"data": {"values": [{}]}, "mark": {"type": "rule", "color": "#8a8a8a", "strokeWidth": 1}, "encoding": {"x": {"datum": -0.75}, "y": {"datum": 0}, "y2": {"datum": 1}}}
 ]},
{"width": 308, "height": 215, "title": {"text": "(b) Gender"},
 "layer": [
  {"data": {"name": "gender"}, "mark": {"type": "line", "interpolate": "monotone", "strokeWidth": 1, "clip": true},
   "encoding": {
    "x": {"field": "month", "type": "quantitative", "title": "Month", "scale": {"domain": [-0.75, 18.75], "nice": false, "zero": false}, "axis": {"values": [0,3,6,9,12,15,18]}},
    "y": {"field": "prob", "type": "quantitative", "title": "Probability of an event", "scale": {"domain": [-0.04, 1.04], "nice": false, "zero": false}, "axis": {"values": [0,0.2,0.4,0.6,0.8,1], "format": ".1f"}},
    "color": {"field": "group", "type": "nominal", "title": "P<0.001", "scale": {"domain": ["Type1: Male","Type1: Female"], "range": ["#3a3a3a","#ee7b82"]}, "legend": {"orient": "none", "legendX": 211, "legendY": 155}},
    "strokeDash": {"field": "group", "type": "nominal", "title": "P<0.001", "scale": {"domain": ["Type1: Male","Type1: Female"], "range": [[1,0],[3,2]]}, "legend": {"orient": "none", "legendX": 211, "legendY": 155}}
   }},
  {"data": {"values": [{}]}, "mark": {"type": "rule", "color": "#8a8a8a", "strokeWidth": 1}, "encoding": {"x": {"datum": 0}, "x2": {"datum": 18}, "y": {"datum": -0.04}}},
  {"data": {"values": [{}]}, "mark": {"type": "rule", "color": "#8a8a8a", "strokeWidth": 1}, "encoding": {"x": {"datum": -0.75}, "y": {"datum": 0}, "y2": {"datum": 1}}}
 ]},
{"width": 308, "height": 215, "title": {"text": "(c) Year"},
 "layer": [
  {"data": {"name": "year"}, "mark": {"type": "line", "interpolate": "monotone", "strokeWidth": 1, "clip": true},
   "encoding": {
    "x": {"field": "month", "type": "quantitative", "title": "Month", "scale": {"domain": [-0.75, 18.75], "nice": false, "zero": false}, "axis": {"values": [0,3,6,9,12,15,18]}},
    "y": {"field": "prob", "type": "quantitative", "title": "Probability of an event", "scale": {"domain": [-0.04, 1.04], "nice": false, "zero": false}, "axis": {"values": [0,0.2,0.4,0.6,0.8,1], "format": ".1f"}},
    "color": {"field": "group", "type": "nominal", "title": "P<0.001", "scale": {"domain": ["Type1: 2012","Type1: 2013","Type1: 2014","Type1: 2015"], "range": ["#3a3a3a","#ee7b82","#8ad88a","#8080e0"]}, "legend": {"orient": "none", "legendX": 211, "legendY": 136}},
    "strokeDash": {"field": "group", "type": "nominal", "title": "P<0.001", "scale": {"domain": ["Type1: 2012","Type1: 2013","Type1: 2014","Type1: 2015"], "range": [[1,0],[3,2],[1,1.5],[1,2,3,2]]}, "legend": {"orient": "none", "legendX": 211, "legendY": 136}}
   }},
  {"data": {"values": [{}]}, "mark": {"type": "rule", "color": "#8a8a8a", "strokeWidth": 1}, "encoding": {"x": {"datum": 0}, "x2": {"datum": 18}, "y": {"datum": -0.04}}},
  {"data": {"values": [{}]}, "mark": {"type": "rule", "color": "#8a8a8a", "strokeWidth": 1}, "encoding": {"x": {"datum": -0.75}, "y": {"datum": 0}, "y2": {"datum": 1}}}
 ]},
{"width": 308, "height": 215, "title": {"text": "(d) Type of tuberculosis", "offset": 14},
 "layer": [
  {"data": {"name": "ttype"}, "mark": {"type": "line", "interpolate": "monotone", "strokeWidth": 1, "clip": true},
   "encoding": {
    "x": {"field": "month", "type": "quantitative", "title": "Month", "scale": {"domain": [-0.75, 18.75], "nice": false, "zero": false}, "axis": {"values": [0,3,6,9,12,15,18]}},
    "y": {"field": "prob", "type": "quantitative", "title": "Probability of an event", "scale": {"domain": [-0.04, 1.04], "nice": false, "zero": false}, "axis": {"values": [0,0.2,0.4,0.6,0.8,1], "format": ".1f"}},
    "color": {"field": "group", "type": "nominal", "title": "P<0.001", "scale": {"domain": ["Type1: Other pul","Type1: Extrapul","Type1: Smear+ pul"], "range": ["#3a3a3a","#ee7b82","#8ad88a"]}, "legend": {"orient": "none", "legendX": 179, "legendY": 146}},
    "strokeDash": {"field": "group", "type": "nominal", "title": "P<0.001", "scale": {"domain": ["Type1: Other pul","Type1: Extrapul","Type1: Smear+ pul"], "range": [[1,0],[3,2],[1,1.5]]}, "legend": {"orient": "none", "legendX": 179, "legendY": 146}}
   }},
  {"data": {"values": [{}]}, "mark": {"type": "rule", "color": "#8a8a8a", "strokeWidth": 1}, "encoding": {"x": {"datum": 0}, "x2": {"datum": 18}, "y": {"datum": -0.04}}},
  {"data": {"values": [{}]}, "mark": {"type": "rule", "color": "#8a8a8a", "strokeWidth": 1}, "encoding": {"x": {"datum": -0.75}, "y": {"datum": 0}, "y2": {"datum": 1}}}
 ]},
{"width": 308, "height": 215, "title": {"text": "(e) Count", "offset": 14},
 "layer": [
  {"data": {"name": "count"}, "mark": {"type": "line", "interpolate": "monotone", "strokeWidth": 1, "clip": true},
   "encoding": {
    "x": {"field": "month", "type": "quantitative", "title": "Month", "scale": {"domain": [-0.75, 18.75], "nice": false, "zero": false}, "axis": {"values": [0,3,6,9,12,15,18]}},
    "y": {"field": "prob", "type": "quantitative", "title": "Probability of an event", "scale": {"domain": [-0.04, 1.04], "nice": false, "zero": false}, "axis": {"values": [0,0.2,0.4,0.6,0.8,1], "format": ".1f"}},
    "color": {"field": "group", "type": "nominal", "title": "P<0.001", "scale": {"domain": ["Type1: 1","Type1: 2","Type1: ≥ 3"], "range": ["#3a3a3a","#ee7b82","#8ad88a"]}, "legend": {"orient": "none", "legendX": 211, "legendY": 146}},
    "strokeDash": {"field": "group", "type": "nominal", "title": "P<0.001", "scale": {"domain": ["Type1: 1","Type1: 2","Type1: ≥ 3"], "range": [[1,0],[3,2],[1,1.5]]}, "legend": {"orient": "none", "legendX": 211, "legendY": 146}}
   }},
  {"data": {"values": [{}]}, "mark": {"type": "rule", "color": "#8a8a8a", "strokeWidth": 1}, "encoding": {"x": {"datum": 0}, "x2": {"datum": 18}, "y": {"datum": -0.04}}},
  {"data": {"values": [{}]}, "mark": {"type": "rule", "color": "#8a8a8a", "strokeWidth": 1}, "encoding": {"x": {"datum": -0.75}, "y": {"datum": 0}, "y2": {"datum": 1}}}
 ]},
{"width": 308, "height": 215, "title": {"text": "(f) Medical institution", "offset": 14},
 "layer": [
  {"data": {"name": "inst"}, "mark": {"type": "line", "interpolate": "monotone", "strokeWidth": 1, "clip": true},
   "encoding": {
    "x": {"field": "month", "type": "quantitative", "title": "Month", "scale": {"domain": [-0.75, 18.75], "nice": false, "zero": false}, "axis": {"values": [0,3,6,9,12,15,18]}},
    "y": {"field": "prob", "type": "quantitative", "title": "Probability of an event", "scale": {"domain": [-0.04, 1.04], "nice": false, "zero": false}, "axis": {"values": [0,0.2,0.4,0.6,0.8,1], "format": ".1f"}},
    "color": {"field": "group", "type": "nominal", "title": "P<0.001", "scale": {"domain": ["Type1: Clinic","Type1: General H(N)","Type1: General H(Y)","Type1: H(N)","Type1: H(Y)","Type1: Health"], "range": ["#3a3a3a","#ee7b82","#8ad88a","#8080e0","#7cdcea","#dc88dc"]}, "legend": {"orient": "none", "legendX": 179, "legendY": 118}},
    "strokeDash": {"field": "group", "type": "nominal", "title": "P<0.001", "scale": {"domain": ["Type1: Clinic","Type1: General H(N)","Type1: General H(Y)","Type1: H(N)","Type1: H(Y)","Type1: Health"], "range": [[1,0],[3,2],[1,1.5],[1,2,3,2],[6,2],[2,2,6,2]]}, "legend": {"orient": "none", "legendX": 179, "legendY": 118}}
   }},
  {"data": {"values": [{}]}, "mark": {"type": "rule", "color": "#8a8a8a", "strokeWidth": 1}, "encoding": {"x": {"datum": 0}, "x2": {"datum": 18}, "y": {"datum": -0.04}}},
  {"data": {"values": [{}]}, "mark": {"type": "rule", "color": "#8a8a8a", "strokeWidth": 1}, "encoding": {"x": {"datum": -0.75}, "y": {"datum": 0}, "y2": {"datum": 1}}}
 ]}
],
"config": {
 "view": {"stroke": null},
 "font": "Liberation Sans",
 "axis": {"grid": false, "domain": false, "tickColor": "#8a8a8a", "tickSize": 3, "labelColor": "#333333", "labelFontSize": 8.5, "labelFont": "Liberation Sans", "titleFont": "Liberation Sans", "titleFontSize": 9, "titleFontWeight": "normal", "titleColor": "#333333"},
 "axisX": {"labelPadding": 1, "titlePadding": 2},
 "axisY": {"labelAngle": 270, "labelAlign": "center", "labelBaseline": "bottom", "labelPadding": 0, "titlePadding": 6},
 "legend": {"symbolType": "stroke", "symbolSize": 484, "symbolStrokeWidth": 1, "labelFontSize": 10.5, "labelFont": "Liberation Sans", "labelColor": "#222222", "titleFontSize": 10.5, "titleFont": "Liberation Sans", "titleFontWeight": "normal", "titleColor": "#222222", "padding": 0, "labelOffset": 7, "titlePadding": 6, "rowPadding": 0, "clipHeight": 12.2, "labelLimit": 300},
 "title": {"font": "Liberation Serif", "fontSize": 24, "fontWeight": "normal", "color": "#111111", "orient": "bottom", "frame": "group", "anchor": "middle", "offset": 30}
}
}
